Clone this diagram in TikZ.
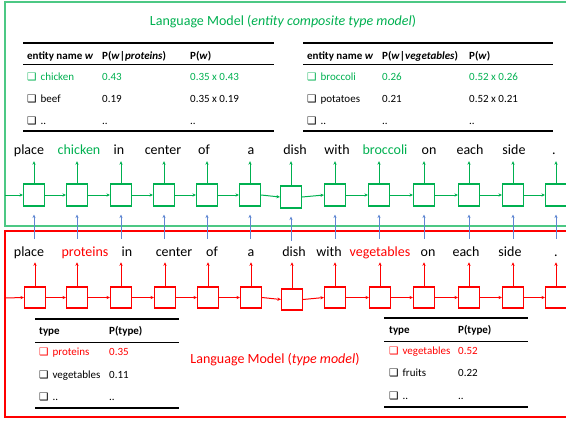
\documentclass[tikz,border=0pt]{standalone}
\usepackage{fontspec}
\setmainfont{Carlito}
\newfontfamily\djv{DejaVu Sans}
\usetikzlibrary{arrows.meta}
\definecolor{lmgreen}{RGB}{0,176,80}
\definecolor{lmred}{RGB}{255,0,0}
\definecolor{lmblue}{RGB}{95,135,210}
\newcommand\ckb{{\djv\fontsize{10.5}{11}\selectfont ❑}\hspace{4pt}}
\begin{document}
\begin{tikzpicture}[x=1pt,y=-1pt,
  gcell/.style={draw=lmgreen, fill=white, minimum width=21pt, minimum height=22pt, inner sep=0pt, line width=1.1pt},
  rcell/.style={draw=lmred, fill=white, minimum width=21pt, minimum height=21pt, inner sep=0pt, line width=1.1pt},
  word/.style={font=\fontsize{14}{15}\selectfont, anchor=base, inner sep=0pt, text depth=0.25em},
  tab/.style={font=\fontsize{11}{12}\selectfont, anchor=west, inner sep=0pt, text height=0.7em, text depth=0.2em},
  title/.style={font=\fontsize{14}{16}\selectfont, inner sep=0pt},
  garr/.style={draw=lmgreen, line width=1pt, -{Stealth[length=3.5pt,width=3.2pt]}},
  rarr/.style={draw=lmred, line width=1pt, -{Stealth[length=3.5pt,width=3.2pt]}},
  barr/.style={draw=lmblue, line width=1pt, -{Stealth[length=3.5pt,width=3.2pt]}},
  thick rule/.style={line width=1.3pt},
  thin rule/.style={line width=0.8pt}]
\useasboundingbox (0,0) rectangle (566,421);
\clip (0,0) rectangle (566,421);

% frames
\draw[draw=lmgreen!70, line width=1.1pt] (5,2) rectangle (590,226);
\draw[draw=lmred, line width=1.1pt] (5,231) rectangle (590,417);

% titles
\node[title, text=lmgreen] (gtitle) at (283,22) {Language Model (\textit{entity composite type model})};
\node[title, text=lmred] (rtitle) at (275,360) {Language Model (\textit{type model})};

% ===== green chain =====
\node[gcell] (g1) at (34,195) {};
\node[gcell] (g2) at (77,195) {};
\node[gcell] (g3) at (121,195) {};
\node[gcell] (g4) at (164,195) {};
\node[gcell] (g5) at (207,195) {};
\node[gcell] (g6) at (250,195) {};
\node[gcell] (g7) at (291,197) {};
\node[gcell] (g8) at (335,195) {};
\node[gcell] (g9) at (379,195) {};
\node[gcell] (g10) at (424,195) {};
\node[gcell] (g11) at (469,195) {};
\node[gcell] (g12) at (513,195) {};
\node[gcell] (g13) at (556,195) {};

\node[word] (gw1) at (29,154) {place};
\node[word, text=lmgreen] (gw2) at (79,154) {chicken};
\node[word] (gw3) at (119,154) {in};
\node[word] (gw4) at (163,154) {center};
\node[word] (gw5) at (204,154) {of};
\node[word] (gw6) at (251,154) {a};
\node[word] (gw7) at (295,154) {dish};
\node[word] (gw8) at (337,154) {with};
\node[word, text=lmgreen] (gw9) at (385,154) {broccoli};
\node[word] (gw10) at (429,154) {on};
\node[word] (gw11) at (470,154) {each};
\node[word] (gw12) at (514,154) {side};
\node[word] (gw13) at (554,154) {.};

\coordinate (gin) at (5,195);
\draw[garr] (gin) -- (g1.west);
\foreach \i [evaluate=\i as \j using int(\i+1)] in {1,...,12} {
  \draw[garr] (g\i.east) -- (g\j.west);
  \draw[garr, shorten >=4.5pt] (g\i.north) -- (g\i.north |- gw\i.south);
  \draw[barr, shorten >=8pt] (g\i.south) ++(0,32) coordinate (bt\i) -- (g\i.south);
}
\draw[garr, shorten >=4.5pt] (g13.north) -- (g13.north |- gw13.south);
\draw[barr, shorten >=8pt] (g13.south) ++(0,32) coordinate (bt13) -- (g13.south);

% ===== red chain =====
\node[rcell] (r1) at (35,297.5) {};
\node[rcell] (r2) at (77,297.5) {};
\node[rcell] (r3) at (121,297.5) {};
\node[rcell] (r4) at (165,297.5) {};
\node[rcell] (r5) at (208,297.5) {};
\node[rcell] (r6) at (251,297.5) {};
\node[rcell] (r7) at (292,299.5) {};
\node[rcell] (r8) at (335,297.5) {};
\node[rcell] (r9) at (380,297.5) {};
\node[rcell] (r10) at (424,297.5) {};
\node[rcell] (r11) at (469,297.5) {};
\node[rcell] (r12) at (513,297.5) {};
\node[rcell] (r13) at (556,297.5) {};

\node[word] (rw1) at (29,256) {place};
\node[word, text=lmred] (rw2) at (85,256) {proteins};
\node[word] (rw3) at (127,256) {in};
\node[word] (rw4) at (174,256) {center};
\node[word] (rw5) at (212,256) {of};
\node[word] (rw6) at (251,256) {a};
\node[word] (rw7) at (294,256) {dish};
\node[word] (rw8) at (329,256) {with};
\node[word, text=lmred] (rw9) at (380,256) {vegetables};
\node[word] (rw10) at (428,256) {on};
\node[word] (rw11) at (466,256) {each};
\node[word] (rw12) at (510,256) {side};
\node[word] (rw13) at (556,256) {.};

\coordinate (rin) at (5,298);
\draw[rarr] (rin) -- (r1.west);
\foreach \i [evaluate=\i as \j using int(\i+1)] in {1,...,12} {
  \draw[rarr] (r\i.east) -- (r\j.west);
  \draw[rarr, shorten >=3.6pt] (r\i.north) -- (r\i.north |- rw\i.south);
}
\draw[rarr, shorten >=3.6pt] (r13.north) -- (r13.north |- rw13.south);

% ===== table top-left =====
\draw[thick rule] (23,43) -- (274,43);
\draw[thin rule] (23,64) -- (274,64);
\draw[thick rule] (23,131) -- (274,131);
\node[tab] (a11) at (27,57) {\textbf{entity name \textit{w}}};
\node[tab] (a12) at (102,57) {\textbf{P(\textit{w}|\textit{proteins})}};
\node[tab] (a13) at (190,57) {\textbf{P(\textit{w})}};
\node[tab, text=lmgreen] (a21) at (27,78) {\ckb chicken};
\node[tab, text=lmgreen] (a22) at (102,78) {0.43};
\node[tab, text=lmgreen] (a23) at (190,78) {0.35 x 0.43};
\node[tab] (a31) at (27,100) {\ckb beef};
\node[tab] (a32) at (102,100) {0.19};
\node[tab] (a33) at (190,100) {0.35 x 0.19};
\node[tab] (a41) at (27,122) {\ckb ..};
\node[tab] (a42) at (102,122) {..};
\node[tab] (a43) at (190,122) {..};

% ===== table top-right =====
\draw[thick rule] (303,43) -- (553,43);
\draw[thin rule] (303,64) -- (553,64);
\draw[thick rule] (303,131) -- (553,131);
\node[tab] (b11) at (307,57) {\textbf{entity name \textit{w}}};
\node[tab] (b12) at (382,57) {\textbf{P(\textit{w}|\textit{vegetables})}};
\node[tab] (b13) at (469,57) {\textbf{P(\textit{w})}};
\node[tab, text=lmgreen] (b21) at (307,78) {\ckb broccoli};
\node[tab, text=lmgreen] (b22) at (382,78) {0.26};
\node[tab, text=lmgreen] (b23) at (469,78) {0.52 x 0.26};
\node[tab] (b31) at (307,100) {\ckb potatoes};
\node[tab] (b32) at (382,100) {0.21};
\node[tab] (b33) at (469,100) {0.52 x 0.21};
\node[tab] (b41) at (307,122) {\ckb ..};
\node[tab] (b42) at (382,122) {..};
\node[tab] (b43) at (469,122) {..};

% ===== table bottom-left =====
\draw[thick rule] (35,319) -- (179,319);
\draw[thin rule] (35,342) -- (179,342);
\draw[thick rule] (35,408) -- (179,408);
\node[tab] (c11) at (39,332) {\textbf{type}};
\node[tab] (c12) at (109,332) {\textbf{P(type)}};
\node[tab, text=lmred] (c21) at (39,353) {\ckb proteins};
\node[tab, text=lmred] (c22) at (109,353) {0.35};
\node[tab] (c31) at (39,376) {\ckb vegetables};
\node[tab] (c32) at (109,376) {0.11};
\node[tab] (c41) at (39,398) {\ckb ..};
\node[tab] (c42) at (109,398) {..};

% ===== table bottom-right =====
\draw[thick rule] (384,318) -- (528,318);
\draw[thin rule] (384,341) -- (528,341);
\draw[thick rule] (384,407) -- (528,407);
\node[tab] (d11) at (389,331) {\textbf{type}};
\node[tab] (d12) at (458,331) {\textbf{P(type)}};
\node[tab, text=lmred] (d21) at (389,352) {\ckb vegetables};
\node[tab, text=lmred] (d22) at (458,352) {0.52};
\node[tab] (d31) at (389,374) {\ckb fruits};
\node[tab] (d32) at (458,374) {0.22};
\node[tab] (d41) at (389,397) {\ckb ..};
\node[tab] (d42) at (458,397) {..};
\end{tikzpicture}
\end{document}
